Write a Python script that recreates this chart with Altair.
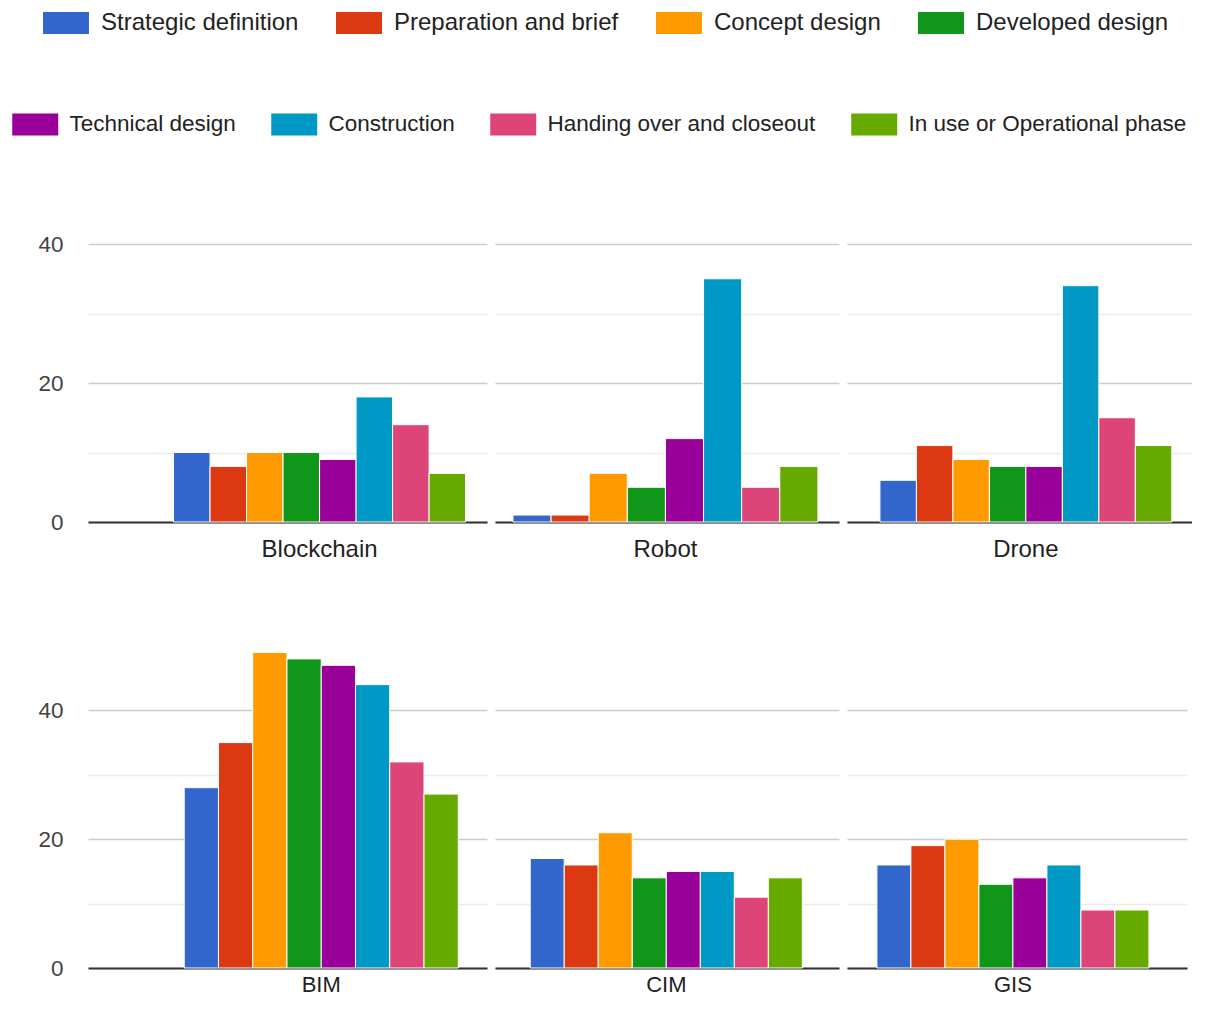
import altair as alt
import pandas as pd

technologies = ["Blockchain", "Robot", "Drone", "BIM", "CIM", "GIS"]
phases = [
    "Strategic definition",
    "Preparation and brief",
    "Concept design",
    "Developed design",
    "Technical design",
    "Construction",
    "Handing over and closeout",
    "In use or Operational phase",
]
colors = ["#3366cc", "#dc3912", "#ff9900", "#109618", "#990099", "#0099c6", "#dd4477", "#66aa00"]

blockchain = [10, 8, 10, 10, 9, 18, 14, 7]
robot = [1, 1, 7, 5, 12, 35, 5, 8]
drone = [6, 11, 9, 8, 8, 34, 15, 11]
bim = [28, 35, 49, 48, 47, 44, 32, 27]
cim = [17, 16, 21, 14, 15, 15, 11, 14]
gis = [16, 19, 20, 13, 14, 16, 9, 9]

series = [blockchain, robot, drone, bim, cim, gis]
rows = []
for tech, vals in zip(technologies, series):
    for ph, v in zip(phases, vals):
        rows.append({"tech": tech, "phase": ph, "value": v})
df = pd.DataFrame(rows)

FONT = "Liberation Sans"
# left-anchored 46x22 swatch drawn with a 22px symbol size
SYMBOL = "M-1,-1H3.18V1H-1Z"


def legend(x, y, fs, colpad):
    return alt.Legend(
        title=None,
        orient="none",
        legendX=x,
        legendY=y,
        direction="horizontal",
        symbolType=SYMBOL,
        symbolSize=484,
        symbolStrokeWidth=0,
        labelFontSize=fs,
        labelFont=FONT,
        labelColor="#222222",
        labelOffset=35,
        labelLimit=500,
        columnPadding=colpad,
    )


def panel(tech, width, height, ymax, pad_outer, align, first, lab_pad, lab_fs):
    base = alt.Chart(df).transform_filter(alt.datum.tech == tech)
    x = alt.X(
        "tech:N",
        scale=alt.Scale(paddingInner=0, paddingOuter=pad_outer, align=align),
        axis=alt.Axis(
            title=None,
            labelAngle=0,
            ticks=False,
            labelFontSize=lab_fs,
            labelFont=FONT,
            labelColor="#222222",
            labelPadding=lab_pad,
            domainColor="#333333",
            domainWidth=2,
        ),
    )
    y = alt.Y(
        "value:Q",
        scale=alt.Scale(domain=[0, ymax], nice=False),
        axis=alt.Axis(
            title=None,
            values=[0, 10, 20, 30, 40],
            labelExpr="datum.value % 20 === 0 ? datum.label : ''",
            labels=first,
            ticks=False,
            domain=False,
            labelFontSize=22.5,
            labelFont=FONT,
            labelColor="#444444",
            labelPadding=25,
            gridColor={"condition": {"test": "datum.value % 20 === 0", "value": "#cccccc"}, "value": "#ebebeb"},
            gridWidth=1.5,
        ),
    )
    xo = alt.XOffset("phase:N", scale=alt.Scale(domain=phases, paddingInner=0, paddingOuter=0))
    a = (
        base.transform_filter(alt.FieldOneOfPredicate(field="phase", oneOf=phases[:4]))
        .mark_bar(stroke="white", strokeWidth=1)
        .encode(
            x=x,
            y=y,
            xOffset=xo,
            color=alt.Color(
                "phase:N",
                scale=alt.Scale(domain=phases[:4], range=colors[:4]),
                legend=legend(-46, -233, 24, 36),
            ),
        )
    )
    b = (
        base.transform_filter(alt.FieldOneOfPredicate(field="phase", oneOf=phases[4:]))
        .mark_bar(stroke="white", strokeWidth=1)
        .encode(
            x=x,
            y=y,
            xOffset=xo,
            fill=alt.Fill(
                "phase:N",
                scale=alt.Scale(domain=phases[4:], range=colors[4:]),
                legend=legend(-76, -131, 22.5, 35),
            ),
        )
    )
    return alt.layer(a, b).properties(width=width, height=height)


top = alt.hconcat(
    panel("Blockchain", 399, 278, 40, 0.183, 0.80, True, 15, 24),
    panel("Robot", 344, 278, 40, 0.064, 0.46, False, 15, 24),
    panel("Drone", 345, 278, 40, 0.091, 0.62, False, 15, 24),
    spacing=8,
).resolve_scale(x="independent", y="independent", xOffset="independent")

bottom = alt.hconcat(
    panel("BIM", 399, 322, 50, 0.228, 0.77, True, 6, 22),
    panel("CIM", 344, 322, 50, 0.132, 0.49, False, 6, 22),
    panel("GIS", 340, 322, 50, 0.125, 0.44, False, 6, 22),
    spacing=8,
).resolve_scale(x="independent", y="independent", xOffset="independent")

chart = (
    alt.vconcat(top, bottom, spacing=85)
    .resolve_scale(x="independent", y="independent", xOffset="independent")
    .properties(padding={"left": 4, "top": 3, "right": 0, "bottom": 0}, background="white")
    .configure(font=FONT)
    .configure_view(strokeWidth=0)
)

chart.save("out.html", embed_options={"renderer": "svg", "actions": False})
